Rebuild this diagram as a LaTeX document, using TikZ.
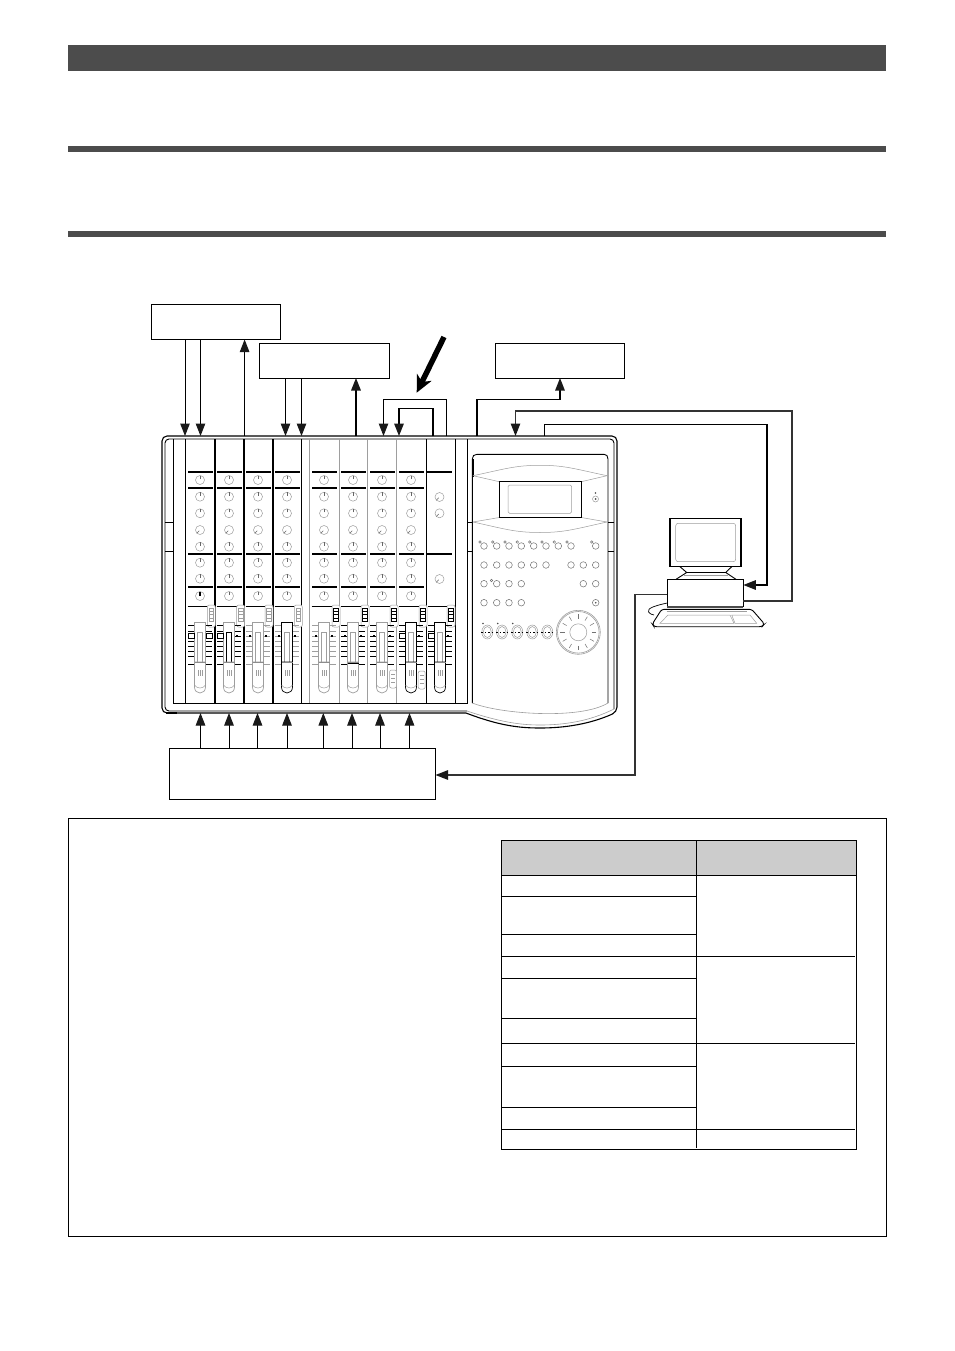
\documentclass[tikz,border=0pt]{standalone}
\usepackage{amsmath}
\usetikzlibrary{arrows.meta}
\colorlet{faint}{black!38}
\colorlet{rule}{black!70}

\begin{document}
\begin{tikzpicture}[x=1pt, y=-1pt,
        boxnode/.style={draw, line width=0.9pt, inner sep=0pt, outer sep=0pt, fill=white},
        wire/.style={line width=1pt},
        wirearrow/.style={line width=1pt, -{Triangle[length=12.5pt, width=9.5pt, color=black!90]}},
        knob/.style={draw=faint, line width=0.5pt, fill=white},
        tick/.style={line width=0.5pt, draw=black!60},
        outline/.style={line width=0.9pt},
        key/.style={draw=black!55, line width=0.5pt}]
            \useasboundingbox (0, 0) rectangle (954, 1351);
            \fill[white] (0, 0) rectangle (954, 1351);

            \fill[rule] (68, 45) rectangle (886, 71);
            \fill[rule] (68, 146) rectangle (886, 152);
            \fill[rule] (68, 231) rectangle (886, 237);

            \node[boxnode, minimum width=129.5pt, minimum height=35pt] (sendbox) at (215.8, 322) {};
            \node[boxnode, minimum width=130pt, minimum height=35pt] (auxbox) at (324.5, 360.5) {};
            \node[boxnode, minimum width=129.5pt, minimum height=35pt] (syncbox) at (559.8, 360.5) {};
            \node[boxnode, minimum width=266pt, minimum height=51pt] (inputbox) at (302.5, 773.5) {};
            \node[inner sep=0pt, outer sep=0pt, minimum width=455pt, minimum height=277pt] (mixer) at (389.5, 574.5) {};

            \draw[line width=1.1pt, rounded corners=5pt] (466, 713) -- (162, 713) -- (162, 436) -- (617, 436) -- (617, 712)
                [sharp corners] .. controls (590, 724) and (565, 728) .. (540, 728) .. controls (520, 728) and (500, 726) .. (466, 713);
            \draw[outline, rounded corners=4pt] (467, 711) -- (165, 711) -- (165, 439) -- (614, 439) -- (614, 709);
            \draw[line width=0.6pt, draw=faint] (467, 711) .. controls (500, 722) and (520, 725) .. (540, 725) .. controls (565, 725) and (590, 721) .. (614, 709);
            \draw[line width=1.8pt] (166, 713) -- (177, 713);
            \draw[outline] (173.3, 439) -- (173.3, 703) -- (467.5, 703) -- (467.5, 439);

            \foreach \gx/\gc/\gw in {185.7/black/1.4, 215/black/1.4, 244/black/1.4, 273/black/1.4, 301.5/black/0.8,
                    309.5/faint/0.8, 339/faint/0.8, 367.5/faint/0.8, 396.5/faint/0.8, 426/black/0.8, 455/black/0.8}
                \draw[draw=\gc, line width=\gw pt] (\gx, 439) -- (\gx, 703);
            \foreach \gy in {522, 551} {
                \draw[outline] (165, \gy) -- (173.3, \gy);
                \draw[outline] (467.5, \gy) -- (472.3, \gy);
                \draw[outline] (608, \gy) -- (614, \gy);
            }

            \foreach \cx in {200, 229, 258, 287, 324, 353, 382, 411} {
                \foreach \gy in {472, 488.3, 554.3, 587} \fill (\cx - 12.5, \gy - 0.9) rectangle (\cx + 12.5, \gy + 0.9);
                \foreach \ky/\ka in {480/270, 496.7/270, 513.3/270, 530/135, 546.7/270, 562.7/270, 578.7/270, 596/270} {
                    \draw[knob] (\cx, \ky) circle (4.5);
                    \draw[tick] ([shift={(\cx, \ky)}]\ka:1) -- ([shift={(\cx, \ky)}]\ka:4.5);
                }
            }
            \fill (426.7, 471.1) rectangle (452, 472.9);
            \fill (426.7, 553.4) rectangle (452, 555.2);
            \foreach \ky/\ka in {497/135, 513.3/135, 579/135} {
                \draw[knob] (439.5, \ky) circle (4.5);
                \draw[tick] ([shift={(439.5, \ky)}]\ka:1) -- ([shift={(439.5, \ky)}]\ka:4.5);
            }
            \draw[line width=1.4pt] (200, 596) -- (200, 591.5);

            \foreach \cx/\swx/\scalec/\capc/\slotc/\swc in {
                    200/211.3/black/faint/faint/faint, 229/240.7/black/faint/black/faint,
                    258/269/faint/faint/faint/faint, 287/298.3/faint/black/faint/faint,
                    324/336/faint/faint/faint/black, 353/365/black/faint/faint/black,
                    382/394/black/faint/faint/black, 411/423/black/black/faint/black,
                    440/451/black/black/faint/black} {
                \draw[line width=0.7pt] (\cx - 12.5, 606) -- (\swx - 4, 606);
                \draw[draw=faint, line width=0.5pt, fill=white, rounded corners=2pt] (\swx - 4, 605) rectangle (\swx + 4, 627);
                \draw[draw=\swc, line width=0.6pt] (\swx - 2.3, 608) rectangle (\swx + 2.3, 621);
                \foreach \ry in {611, 614.5, 618} \draw[draw=\swc, line width=0.5pt] (\swx - 2.3, \ry) -- (\swx + 2.3, \ry);
                \foreach \sy in {625, 631, 636, 641, 646, 651, 656, 664} {
                    \draw[draw=\scalec, line width=0.7pt] (\cx - 12, \sy) -- (\cx - 6, \sy);
                    \draw[draw=\scalec, line width=0.7pt] (\cx + 6, \sy) -- (\cx + 12, \sy);
                }
                \fill (\cx - 9.3, 634.8) rectangle (\cx - 6.8, 637.2);
                \fill (\cx + 6.8, 634.8) rectangle (\cx + 9.3, 637.2);
                \draw[draw=\capc, line width=0.7pt] (\cx - 5.5, 662) -- (\cx - 5.5, 622.5) -- (\cx + 5.5, 622.5) -- (\cx + 5.5, 662);
                \draw[draw=\slotc, line width=0.6pt] (\cx - 2.5, 662) -- (\cx - 2.5, 632) -- (\cx + 2.5, 632) -- (\cx + 2.5, 662);
                \draw[draw=\capc, line width=0.7pt, fill=white] (\cx - 5.5, 662) -- (\cx + 5.5, 662) -- (\cx + 5.5, 687)
                    .. controls (\cx + 5.5, 695) and (\cx - 5.5, 695) .. (\cx - 5.5, 687) -- cycle;
                \draw[draw=faint, line width=0.5pt] (\cx - 5.5, 685) .. controls (\cx - 3, 689) and (\cx + 3, 689) .. (\cx + 5.5, 685);
                \fill[black!45] (\cx - 5.5, 661.5) rectangle (\cx + 5.5, 662.7);
                \foreach \hx in {-2, 0, 2} \draw[draw=faint, line width=0.5pt] (\cx + \hx, 670) -- (\cx + \hx, 676);
            }
            \foreach \mx in {188, 206.5, 217, 399, 428} \draw[line width=0.9pt, fill=white] (\mx, 633.5) rectangle (\mx + 6, 638.5);
            \draw[line width=1.6pt] (347.5, 663.5) -- (358.5, 663.5);
            \foreach \swx/\swy in {393/670, 421.7/671} {
                \draw[draw=faint, line width=0.5pt, rounded corners=2pt, fill=white] (\swx - 3.5, \swy) rectangle (\swx + 3.5, \swy + 18);
                \foreach \ry in {4, 8, 12} \draw[draw=faint, line width=0.5pt] (\swx - 2, \swy + \ry) -- (\swx + 2, \swy + \ry);
            }

            \draw[outline] (472.3, 703) -- (472.3, 459) .. controls (472.3, 456) and (474, 454.3) .. (477, 454.3) -- (604, 454.3)
                .. controls (606.5, 454.3) and (608, 456) .. (608, 459) -- (608, 703);
            \draw[line width=1.6pt] (473, 459) -- (473, 477);
            \draw[draw=faint, line width=0.6pt] (472.3, 703) .. controls (500, 714) and (580, 720) .. (608, 703);
            \draw[draw=faint, line width=0.5pt] (473, 475.7) .. controls (505, 469) and (515, 465.3) .. (540, 465.3) .. controls (565, 465.3) and (575, 469) .. (607, 475.7);
            \draw[draw=faint, line width=0.5pt] (473, 475.7) -- (499.3, 481.7);
            \draw[draw=faint, line width=0.5pt] (581.3, 481.7) -- (607, 475.7);
            \draw[draw=faint, line width=0.5pt] (473, 522) .. controls (505, 529) and (515, 532.5) .. (540, 532.5) .. controls (565, 532.5) and (575, 529) .. (607, 522);
            \draw[draw=faint, line width=0.5pt] (473, 522) -- (499.3, 517.5);
            \draw[draw=faint, line width=0.5pt] (581.3, 517.5) -- (607, 522);
            \draw[line width=0.9pt, fill=white] (499.3, 481.7) rectangle (581.3, 517.5);
            \draw[draw=faint, line width=0.5pt, rounded corners=1.5pt] (508, 485) rectangle (571.7, 513.3);
            \draw[knob] (595.5, 499) circle (3);
            \fill[black!70] (595.5, 499) circle (1);
            \fill[black!70] (595.5, 493) circle (0.9);

            \foreach \bx in {484, 496.7, 509, 521.3, 533.7, 546, 558.3, 571, 595.7} {
                \draw[key] (\bx, 546) circle (3.3);
                \draw[key] (\bx - 4, 542) circle (1.3);
            }
            \foreach \bx in {484, 496.7, 509, 521.3, 533.7, 546, 571, 583.3, 595.7} \draw[key] (\bx, 565) circle (3.3);
            \foreach \bx in {484, 496.7, 509, 521.3, 583.3, 595.7} \draw[key] (\bx, 583.7) circle (3.3);
            \draw[key] (491.5, 580.5) circle (1.3);
            \foreach \bx in {484, 496.7, 509, 521.3, 595.7} \draw[key] (\bx, 602.7) circle (3.3);
            \fill[black!70] (595.7, 602.7) circle (0.9);
            \foreach \bx in {487.3, 502, 517.3, 532.3, 547.3} {
                \draw[draw=faint, line width=0.5pt] (\bx, 632) ellipse (5.5 and 7);
                \draw[draw=faint, line width=0.5pt] (\bx, 632) ellipse (4 and 5.5);
                \draw[line width=0.6pt, dash pattern=on 1.5pt off 2pt] (\bx - 6, 632) -- (\bx + 6, 632);
            }
            \foreach \bx in {483, 497.7, 512.7} \fill[black!70] (\bx, 623.5) circle (0.8);
            \draw[draw=faint, line width=0.6pt] (578.3, 632.3) circle (22);
            \draw[draw=faint, line width=0.6pt] (578.3, 632.3) circle (20.8);
            \draw[draw=faint, line width=0.5pt] (578.3, 632.3) circle (8.5);
            \foreach \wa in {0, 30, ..., 330} \draw[draw=black!55, line width=0.5pt, shift={(578.3, 632.3)}] (\wa:13.5) -- (\wa:18);

            \draw[line width=1.2pt, fill=white] (670, 518.5) rectangle (741, 566.7);
            \draw[draw=faint, line width=0.5pt, rounded corners=2.5pt] (675.7, 523.3) rectangle (735.7, 561.7);
            \draw[outline] (680, 566.7) -- (686.7, 572.5) -- (676, 579.3);
            \draw[outline] (731.7, 566.7) -- (725.7, 572.5) -- (736, 579.3);
            \draw[line width=1.3pt] (686.7, 572.5) -- (725.7, 572.5);
            \draw[draw=faint, line width=0.5pt] (684, 575.5) -- (728, 575.5);
            \node[boxnode, minimum width=76pt, minimum height=27.4pt] (computer) at (705.3, 593) {};
            \draw[line width=1.6pt, draw=black!70] (667.3, 606.7) -- (743.3, 606.7);
            \draw[line width=0.9pt, rounded corners=2.5pt] (661.7, 609.3) -- (751.7, 609.3) -- (764.5, 624) -- (762, 626.7) -- (654, 626.7) -- (652.3, 624) -- cycle;
            \draw[draw=faint, line width=0.5pt] (666.7, 611.7) -- (747, 611.7);
            \draw[draw=faint, line width=0.5pt] (668, 615) -- (730, 615) -- (734, 623.3) -- (660, 623.3) -- cycle;
            \draw[draw=faint, line width=0.5pt] (731.7, 615) -- (750, 615) -- (756.7, 623.3) -- (735, 623.3) -- cycle;
            \draw[line width=0.7pt] (667.3, 603) .. controls (658, 605) and (646, 608) .. (648.5, 612) .. controls (649.5, 614) and (652, 614.5) .. (654, 615);

            \foreach \ax in {185, 200.5} \draw[wirearrow] (sendbox.south -| \ax, 0) -- (mixer.north -| \ax, 0);
            \draw[wirearrow] (mixer.north -| 244.6, 0) -- (sendbox.south -| 244.6, 0);
            \foreach \ax in {285.5, 301.5} \draw[wirearrow] (auxbox.south -| \ax, 0) -- (mixer.north -| \ax, 0);
            \draw[wirearrow, line width=1.5pt] (mixer.north -| 356, 0) -- (auxbox.south -| 356, 0);
            \draw[wirearrow] (mixer.north -| 446, 0) -- (446, 399) -- (383.5, 399) -- (mixer.north -| 383.5, 0);
            \draw[wirearrow, line width=1.5pt] (mixer.north -| 433, 0) -- (433, 408.7) -- (399, 408.7) -- (mixer.north -| 399, 0);
            \foreach \ax in {200.5, 229, 257.5, 287, 323.3, 352, 380, 409.5} \draw[wirearrow] (inputbox.north -| \ax, 0) -- (mixer.south -| \ax, 0);

            \draw[wirearrow, line width=1.3pt] (mixer.north -| 477, 0) -- (477, 399.3) -- (560, 399.3) -- (syncbox.south -| 560, 0);
            \draw[wirearrow, draw=black!80, line width=1.2pt] (computer.east |- 0, 601) -- (792, 601) -- (792, 411) -- (515.5, 411) -- (mixer.north -| 515.5, 0);
            \draw[wirearrow, line width=1.2pt] (mixer.north -| 544.5, 0) -- (544.5, 424.5) -- (767, 424.5) -- (767, 585) -- (computer.east |- 0, 585);
            \draw[wirearrow, draw=black!80, line width=1.3pt] (computer.west |- 0, 594.7) -- (635, 594.7) -- (635, 775) -- (inputbox.east |- 0, 775);

            \coordinate (pointertail) at (444, 337);
            \coordinate (pointertip) at (416.7, 392.7);
            \draw[line width=5.5pt, -{Stealth[length=17pt, width=16pt, inset=5pt]}] (pointertail) -- (pointertip);

            \draw[line width=0.9pt] (68.5, 818.5) rectangle (886.5, 1236.5);
            \fill[black!20] (501.3, 840.3) rectangle (856.3, 875.3);
            \draw[line width=1pt] (501.3, 840.3) rectangle (856.3, 1149.3);
            \draw[line width=1pt] (696.7, 840.3) -- (696.7, 1148);
            \draw[line width=1pt] (501.3, 875.3) -- (856.3, 875.3);
            \foreach \ty in {896.3, 934.3, 978.3, 1018.3, 1066.3, 1107.3} \draw[line width=1pt] (501.3, \ty) -- (696.7, \ty);
            \foreach \ty in {956.3, 1043.3, 1129.3} \draw[line width=1pt] (501.3, \ty) -- (855, \ty);
        \end{tikzpicture}
\end{document}
